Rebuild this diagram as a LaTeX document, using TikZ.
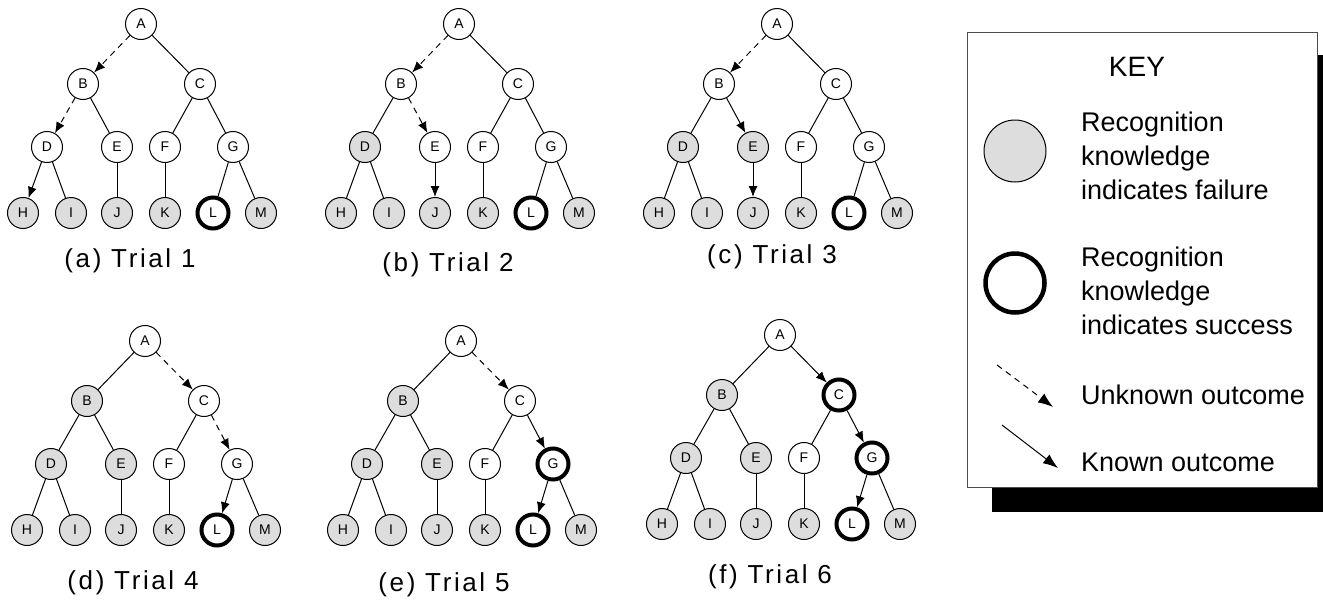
\documentclass[tikz,border=0pt]{standalone}
\usepackage{fontspec}
\setmainfont{Liberation Sans}
\newfontfamily\captionfont[LetterSpace=10]{Liberation Sans}
\usepackage{tikz}
\usetikzlibrary{arrows.meta}
\definecolor{failgrey}{RGB}{221,221,221}

% one search tree, nodes named <prefix><letter>
\newcommand{\trialtree}[1]{%
  \foreach \n/\x/\y in {A/0/0,B/-58/60,C/59/60,D/-94/123,E/-24/123,F/24/123,G/92/123,
                        H/-118/189,I/-70/189,J/-24/189,K/24/189,L/72/189,M/120/189}
    \node[state, st\n/.try] (#1\n) at (\x,\y) {\n};
  \foreach \u/\v in {A/B,A/C,B/D,B/E,C/F,C/G,D/H,D/I,E/J,F/K,G/L,G/M}
    \draw[branch, e\u\v/.try] (#1\u) -- (#1\v);
}

\begin{document}
\begin{tikzpicture}[
            x=1pt, y=-1pt,
            state/.style={circle, draw, line width=1pt, fill=white, minimum size=31pt,
                          inner sep=0pt, font=\fontsize{14}{16}\selectfont},
            fail/.style={fill=failgrey},
            success/.style={line width=4pt},
            branch/.style={line width=1pt},
            unknown/.style={dash pattern=on 6pt off 5pt, -{Latex[length=11pt,width=9pt]}},
            known/.style={-{Latex[length=11pt,width=9pt]}},
            keyarrow/.style={-{Latex[length=15pt,width=11pt]}},
            caption/.style={font=\captionfont\fontsize{26}{30}\selectfont},
            keytext/.style={anchor=west, align=left, inner sep=0pt,
                            font=\fontsize{27}{34}\selectfont},
            stH/.style=fail, stI/.style=fail, stJ/.style=fail,
            stK/.style=fail, stL/.style=success, stM/.style=fail
        ]
        \useasboundingbox (0,0) rectangle (1323,600);

        % Trial 1
        \begin{scope}[shift={(141,24)}, eAB/.style=unknown, eBD/.style=unknown, eDH/.style=known]
        \trialtree{a}
        \end{scope}
        % Trial 2
        \begin{scope}[shift={(459,24)}, stD/.style=fail,
                      eAB/.style=unknown, eBE/.style=unknown, eEJ/.style=known]
        \trialtree{b}
        \end{scope}
        % Trial 3
        \begin{scope}[shift={(777,24)}, stD/.style=fail, stE/.style=fail,
                      eAB/.style=unknown, eBE/.style=known, eEJ/.style=known]
        \trialtree{c}
        \end{scope}
        % Trial 4
        \begin{scope}[shift={(145,341)}, stB/.style=fail, stD/.style=fail, stE/.style=fail,
                      eAC/.style=unknown, eCG/.style=unknown, eGL/.style=known]
        \trialtree{d}
        \end{scope}
        % Trial 5
        \begin{scope}[shift={(461,341)}, stB/.style=fail, stD/.style=fail, stE/.style=fail,
                      stG/.style=success,
                      eAC/.style=unknown, eCG/.style=known, eGL/.style=known]
        \trialtree{e}
        \end{scope}
        % Trial 6
        \begin{scope}[shift={(780,335)}, stB/.style=fail, stD/.style=fail, stE/.style=fail,
                      stC/.style=success, stG/.style=success,
                      eAC/.style=known, eCG/.style=known, eGL/.style=known]
        \trialtree{f}
        \end{scope}

        % Captions
        \node[caption] (capa) at (130,261) {(a) Trial 1};
        \node[caption] (capb) at (448,265) {(b) Trial 2};
        \node[caption] (capc) at (772,257) {(c) Trial 3};
        \node[caption] (capd) at (133,583) {(d) Trial 4};
        \node[caption] (cape) at (444,585) {(e) Trial 5};
        \node[caption] (capf) at (770,577) {(f) Trial 6};

        % Key
        \fill[black] (992,55) rectangle (1323,512);
        \draw[draw=black!70, line width=0.8pt, fill=white] (967,32) rectangle (1317,487);
        \node[font=\fontsize{28}{30}\selectfont] (keytitle) at (1137,67) {KEY};
        \node[state, fail, minimum size=62pt] (keyfail) at (1015,151) {};
        \node[keytext] (keyfailtext) at (1081,156) {Recognition\\knowledge\\indicates failure};
        \node[state, line width=4.5pt, minimum size=59pt] (keysucc) at (1015,283) {};
        \node[keytext] (keysucctext) at (1081,291) {Recognition\\knowledge\\indicates success};
        \coordinate (unkstart) at (997,365);
        \coordinate (unkend) at (1053,407);
        \draw[branch, dash pattern=on 6pt off 5pt, keyarrow] (unkstart) -- (unkend);
        \node[keytext] (unktext) at (1081,395) {Unknown outcome};
        \coordinate (knstart) at (1002,425);
        \coordinate (knend) at (1058,468);
        \draw[branch, keyarrow] (knstart) -- (knend);
        \node[keytext] (kntext) at (1081,462) {Known outcome};

        \end{tikzpicture}
\end{document}
